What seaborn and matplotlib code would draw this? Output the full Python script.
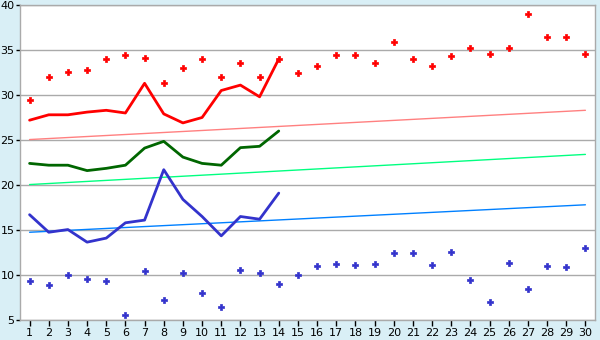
import matplotlib
matplotlib.use("Agg")
import matplotlib.pyplot as plt
import seaborn as sns
import pandas as pd

days = list(range(1, 31))

max_points = [29.4, 32.0, 32.6, 32.8, 34.0, 34.4, 34.1, 31.3, 33.0, 34.0,
              32.0, 33.6, 32.0, 34.0, 32.4, 33.2, 34.4, 34.4, 33.6, 35.9,
              34.0, 33.2, 34.3, 35.2, 34.6, 35.2, 39.0, 36.5, 36.5, 34.6]
min_points = [9.3, 8.9, 10.0, 9.6, 9.3, 5.6, 10.4, 7.2, 10.2, 8.0,
              6.5, 10.6, 10.2, 9.0, 10.0, 11.0, 11.2, 11.1, 11.2, 12.4,
              12.4, 11.1, 12.6, 9.5, 7.0, 11.3, 8.5, 11.0, 10.9, 13.0]

line_days = list(range(1, 15))
max_line = [27.2, 27.8, 27.8, 28.1, 28.3, 28.0, 31.3, 27.9, 26.9, 27.5,
            30.5, 31.1, 29.8, 34.0]
mean_line = [22.4, 22.2, 22.2, 21.6, 21.85, 22.2, 24.1, 24.85, 23.1, 22.4,
             22.2, 24.15, 24.3, 26.0]
min_line = [16.7, 14.75, 15.05, 13.65, 14.1, 15.8, 16.1, 21.7, 18.4, 16.5,
            14.35, 16.5, 16.2, 19.1]

trend_days = [1, 30]
max_trend = [25.05, 28.3]
mean_trend = [20.05, 23.4]
min_trend = [14.75, 17.8]

y_ticks = [5, 10, 15, 20, 25, 30, 35, 40]

bg = "#d9eff6"
sns.set_theme(style="white")
plt.rcParams["font.family"] = ["DejaVu Sans"]

fig = plt.figure(figsize=(6, 3.4), dpi=100, facecolor=bg)
ax = fig.add_axes([20/600, 1-320/340, 575/600, 315/340])
ax.set_facecolor("white")

for ys in y_ticks:
    ax.axhline(ys, color="#aaaaaa", lw=1, zorder=0)

tdf = pd.DataFrame({"day": trend_days, "max": max_trend, "mean": mean_trend, "min": min_trend})
sns.lineplot(data=tdf, x="day", y="max", color="#ff8080", lw=1, ax=ax)
sns.lineplot(data=tdf, x="day", y="mean", color="#00ff80", lw=1, ax=ax)
sns.lineplot(data=tdf, x="day", y="min", color="#0080ff", lw=1, ax=ax)

ldf = pd.DataFrame({"day": line_days, "max": max_line, "mean": mean_line, "min": min_line})
sns.lineplot(data=ldf, x="day", y="max", color="#ff0000", lw=2, ax=ax)
sns.lineplot(data=ldf, x="day", y="mean", color="#006600", lw=2, ax=ax)
sns.lineplot(data=ldf, x="day", y="min", color="#3333cc", lw=2, ax=ax)

pdf = pd.DataFrame({"day": days, "max": max_points, "min": min_points})
sns.scatterplot(data=pdf, x="day", y="max", color="#ff0000", marker="P", s=20,
                linewidth=0.5, edgecolor="#ff0000", ax=ax, zorder=5)
sns.scatterplot(data=pdf, x="day", y="min", color="#3333cc", marker="P", s=20,
                linewidth=0.5, edgecolor="#3333cc", ax=ax, zorder=5)

ax.set_xlim(0.5, 30.5)
ax.set_ylim(5, 40)
ax.set_xticks(days)
ax.set_xticklabels([str(d) for d in days])
ax.set_yticks(y_ticks)
ax.set_xlabel("")
ax.set_ylabel("")
ax.tick_params(axis="both", labelsize=8, colors="black", width=1, direction="out")
ax.tick_params(axis="x", bottom=True, length=4, pad=2)
ax.tick_params(axis="y", left=True, length=3, pad=1)
for s in ax.spines.values():
    s.set_color("#aaaaaa")
    s.set_linewidth(1)

fig.savefig("out.png", dpi=100, facecolor=bg)
